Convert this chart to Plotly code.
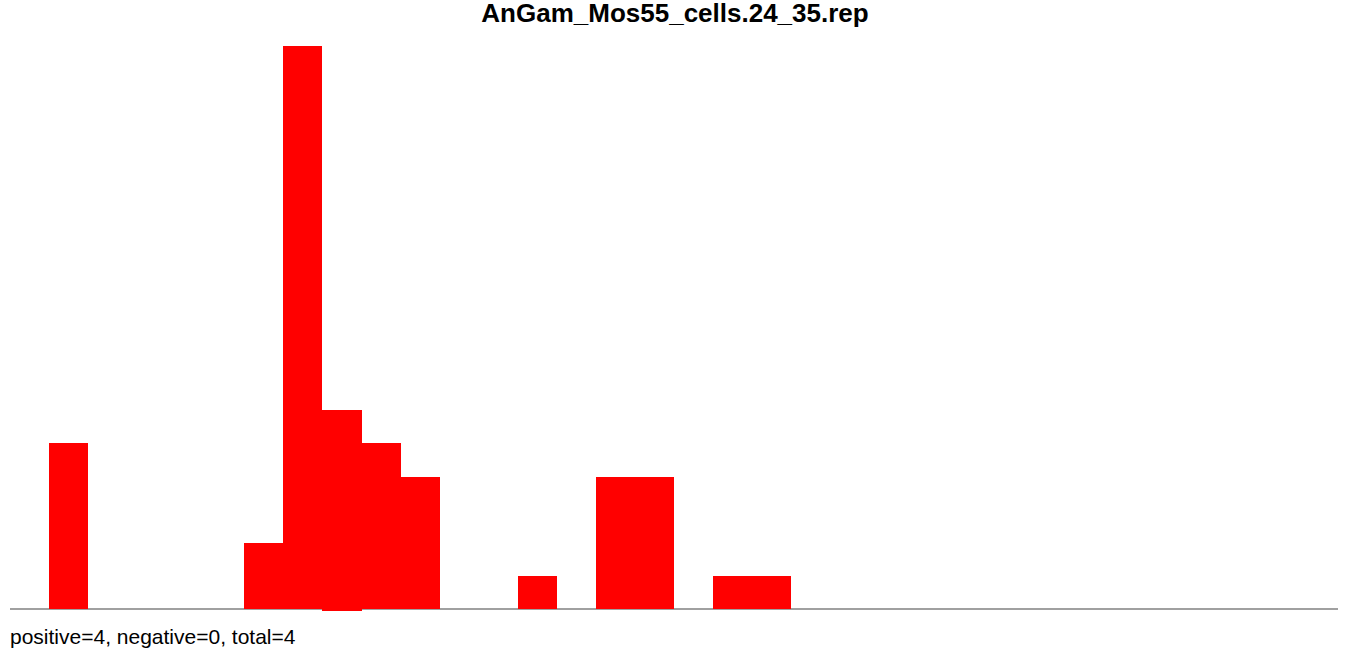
import plotly.graph_objects as go

bins = list(range(34))
pos_bins = [1, 6, 7, 8, 9, 10, 13, 15, 16, 18, 19]
pos_vals = [5, 2, 17, 6, 5, 4, 1, 4, 4, 1, 1]
neg_bins = [8]
neg_vals = [-0.05]
title = "AnGam_Mos55_cells.24_35.rep"
summary = "positive=4, negative=0, total=4"

fig = go.Figure()
fig.add_trace(go.Bar(x=pos_bins, y=pos_vals, width=1, marker=dict(color="#ff0000", line=dict(width=0)), showlegend=False))
fig.add_trace(go.Bar(x=neg_bins, y=neg_vals, width=1, marker=dict(color="#ff0000", line=dict(width=0)), showlegend=False))

fig.add_shape(type="line", xref="paper", yref="y", x0=0, x1=1, y0=0, y1=0,
              line=dict(color="#a0a0a0", width=2), layer="below")

fig.add_annotation(text=summary, xref="paper", yref="paper", x=0, y=0, yshift=-17, xshift=-2,
                   xanchor="left", yanchor="middle", showarrow=False,
                   font=dict(family="Arial, Liberation Sans", size=21, color="#000000"))

fig.update_layout(
    width=1350, height=653,
    barmode="relative", bargap=0,
    plot_bgcolor="white", paper_bgcolor="white",
    margin=dict(l=10, r=12, t=46, b=34),
    title=dict(text="<b>" + title + "</b>", x=0.5, xanchor="center", y=1 - 13 / 653, yanchor="middle",
               font=dict(family="Arial, Liberation Sans", size=26, color="#000000")),
    xaxis=dict(range=[-0.5, 33.5], visible=False, showgrid=False, zeroline=False),
    yaxis=dict(range=[-0.3, 17], visible=False, showgrid=False, zeroline=False),
)

fig.write_html("out.html", config={"displayModeBar": False},
               post_script="document.body.style.margin='0';document.body.style.overflow='hidden';")
